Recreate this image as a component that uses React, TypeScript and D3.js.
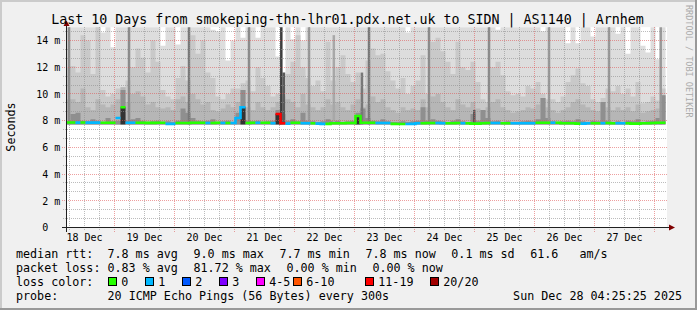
import React from "react";
import * as d3 from "d3";

// ---------------- data ----------------
const TITLE = "Last 10 Days from smokeping-thn-lhr01.pdx.net.uk to SIDN | AS1140 | Arnhem";
const Y_LABEL = "Seconds";
const WATERMARK = "RRDTOOL / TOBI OETIKER";
const parseT = d3.timeParse("%Y-%m-%d %H:%M:%S");
const START = parseT("2025-12-18 04:25:25") as Date;
const END = parseT("2025-12-28 04:25:25") as Date;
const STEP_HOURS = 2;
const SMOKE_FLOOR = 7.72;
const CORE_LIMIT = 8.25;

// outermost ping (max) per 2h step, ms (16 = above the graph top)
const maxRtt = [
  16, 16, 16, 16, 16, 16, 16, 14.6, 16, 13.5,
  16, 16, 16, 16, 16, 16, 16, 16, 16, 13.6,
  16, 16, 13.7, 16, 16, 16, 16, 16, 16, 14.8,
  14.7, 16, 12.5, 14.0, 16, 14.2, 16, 16, 14.2, 16,
  16, 16, 12.8, 11.6, 16, 14.1, 16, 14.0, 16, 16,
  16, 16, 16, 16, 16, 16, 16, 16, 16, 16,
  16, 16, 16, 16, 16, 16, 16, 16, 14.6, 16,
  16, 16, 16, 16, 16, 16, 16, 16, 16, 16,
  16, 16, 16, 16, 16, 16, 14.8, 16, 16, 16,
  16, 16, 16, 16, 16, 14.7, 16, 16, 16, 16,
  13.8, 16, 13.8, 16, 16, 14.3, 16, 16, 16, 16,
  14.5, 16, 13.0, 16, 16, 13.6, 13.1, 16, 12.6, 16,
];
// upper smoke band
const bandHigh = [
  12.0, 12.1, 11.6, 14.4, 14.0, 11.5, 15.5, 10.3, 9.8, 10.0,
  10.4, 10.5, 11.0, 12.0, 13.4, 12.7, 11.6, 14.0, 12.4, 10.3,
  9.8, 9.6, 11.2, 12.1, 11.0, 14.4, 13.0, 14.0, 11.6, 11.2,
  9.8, 9.6, 10.0, 10.4, 10.4, 10.8, 11.0, 10.2, 12.0, 11.2,
  10.6, 9.8, 10.0, 10.5, 11.5, 12.4, 14.4, 12.0, 11.2, 10.6,
  11.0, 10.2, 13.9, 11.0, 12.0, 12.9, 11.5, 10.9, 11.6, 10.4,
  12.5, 13.4, 12.9, 13.0, 11.7, 11.0, 10.4, 11.2, 10.0, 10.6,
  11.0, 12.9, 10.0, 13.9, 14.2, 13.2, 12.4, 11.5, 13.9, 12.0,
  11.8, 12.4, 10.9, 9.6, 9.4, 12.0, 12.4, 11.4, 10.2, 9.9,
  10.0, 9.8, 10.6, 10.4, 10.9, 10.0, 9.6, 9.6, 9.4, 9.8,
  10.9, 11.4, 11.9, 10.8, 10.6, 9.6, 9.4, 9.7, 10.4, 10.2,
  10.6, 10.0, 10.4, 9.8, 10.9, 9.3, 9.4, 9.8, 9.5, 10.4,
];
// middle smoke band
const bandMid = [
  9.6, 9.6, 9.4, 10.4, 9.0, 8.8, 9.6, 9.2, 9.0, 9.2,
  9.6, 10.5, 9.4, 10.0, 10.2, 9.8, 9.2, 9.4, 9.0, 8.9,
  9.0, 8.8, 9.6, 9.8, 9.4, 10.0, 9.6, 9.2, 9.4, 8.8,
  8.7, 8.9, 9.2, 9.0, 9.4, 10.3, 9.0, 8.8, 9.4, 9.0,
  8.8, 9.0, 9.4, 9.8, 9.6, 9.4, 9.0, 10.0, 9.2, 9.0,
  8.8, 9.0, 9.6, 9.2, 9.4, 9.0, 8.8, 9.2, 9.6, 9.0,
  9.2, 9.8, 9.4, 9.6, 9.0, 8.8, 8.6, 9.0, 8.8, 8.9,
  8.8, 9.6, 9.0, 9.8, 10.0, 9.4, 9.0, 8.8, 9.6, 9.2,
  9.0, 9.4, 8.9, 8.8, 9.0, 9.4, 9.6, 9.0, 8.8, 8.6,
  8.7, 8.8, 9.0, 8.9, 9.2, 9.7, 9.0, 8.8, 8.6, 8.8,
  9.0, 9.4, 9.6, 9.2, 9.0, 8.8, 8.7, 9.4, 9.0, 8.8,
  9.0, 8.8, 9.0, 8.7, 9.2, 8.6, 8.7, 8.8, 8.9, 9.9,
];
// inner (dense) smoke band
const bandLow = [
  7.95, 8.5, 8.6, 8.0, 7.95, 8.1, 8.0, 7.9, 8.2, 7.95,
  8.0, 10.3, 8.0, 8.1, 8.2, 8.0, 7.9, 7.95, 8.0, 7.9,
  7.95, 7.9, 8.0, 8.9, 8.6, 8.2, 8.0, 7.95, 8.0, 8.1,
  7.9, 7.95, 8.0, 7.9, 8.6, 10.3, 8.0, 7.95, 8.0, 7.9,
  7.95, 8.0, 8.8, 8.5, 8.0, 8.1, 7.95, 8.6, 8.0, 7.95,
  7.9, 7.95, 8.1, 8.0, 8.0, 7.9, 7.95, 8.0, 8.6, 8.9,
  8.2, 8.0, 7.95, 8.1, 7.95, 7.9, 7.9, 7.95, 7.9, 7.95,
  8.0, 9.0, 8.0, 8.1, 8.0, 7.95, 7.9, 8.0, 8.1, 7.95,
  7.9, 8.5, 8.0, 8.8, 8.2, 7.95, 8.0, 7.9, 7.95, 7.9,
  7.9, 7.95, 8.0, 7.95, 8.1, 9.7, 8.2, 7.95, 7.9, 7.95,
  8.0, 7.95, 8.1, 7.95, 7.9, 8.0, 7.95, 9.4, 8.0, 7.9,
  7.95, 7.9, 8.0, 7.95, 8.1, 7.9, 7.95, 8.0, 8.2, 9.9,
];
// median rtt, ms
const medianRtt = [
  7.86, 7.86, 7.85, 7.86, 7.85, 7.85, 7.85, 7.84, 7.84, 7.84,
  8.2, 9.0, 7.84, 7.84, 7.84, 7.84, 7.83, 7.83, 7.84, 7.84,
  7.76, 7.76, 7.82, 7.82, 7.82, 7.84, 7.84, 7.84, 7.82, 7.82,
  7.84, 7.82, 7.82, 7.82, 8.2, 9.0, 7.82, 7.84, 7.84, 7.84,
  7.84, 7.8, 8.5, 7.8, 7.78, 7.84, 7.84, 7.8, 7.8, 7.8,
  7.78, 7.76, 7.76, 7.8, 7.8, 7.8, 7.82, 7.82, 8.35, 7.84,
  7.84, 7.84, 7.82, 7.82, 7.82, 7.76, 7.75, 7.75, 7.75, 7.76,
  7.8, 7.8, 7.82, 7.82, 7.82, 7.8, 7.8, 7.8, 7.82, 7.8,
  7.8, 7.78, 7.78, 7.8, 7.82, 7.82, 7.82, 7.8, 7.8, 7.8,
  7.8, 7.8, 7.8, 7.8, 7.84, 7.84, 7.84, 7.84, 7.84, 7.8,
  7.8, 7.8, 7.78, 7.78, 7.8, 7.8, 7.8, 7.8, 7.82, 7.8,
  7.8, 7.8, 7.8, 7.78, 7.78, 7.8, 7.8, 7.82, 7.84, 7.84,
];
// loss class index per step (0 = "0", 1 = "1", ... 6 = "11-19")
const lossClass = [
  0, 0, 1, 0, 1, 1, 1, 0, 0, 0,
  1, 0, 1, 1, 0, 0, 0, 0, 0, 0,
  1, 1, 0, 0, 0, 0, 0, 0, 1, 0,
  0, 1, 0, 1, 1, 1, 0, 0, 1, 0,
  0, 1, 6, 6, 1, 0, 0, 1, 1, 0,
  1, 1, 0, 0, 0, 0, 0, 0, 0, 0,
  0, 0, 1, 1, 1, 0, 0, 0, 1, 1,
  1, 0, 0, 0, 1, 1, 0, 0, 0, 1,
  0, 0, 0, 0, 0, 1, 1, 0, 0, 1,
  1, 1, 1, 1, 0, 0, 0, 1, 0, 0,
  0, 0, 0, 1, 1, 0, 0, 1, 0, 0,
  1, 1, 0, 0, 0, 0, 0, 0, 0, 0,
];
// short bursts (1 hour) of high latency
const spikeTimes = [
  "2025-12-18 05:20:00", "2025-12-19 05:20:00", "2025-12-20 05:20:00", "2025-12-21 05:20:00",
  "2025-12-21 18:15:00", "2025-12-21 19:15:00", "2025-12-22 05:20:00", "2025-12-22 15:15:00",
  "2025-12-23 02:30:00", "2025-12-23 05:20:00", "2025-12-24 05:20:00", "2025-12-24 23:25:00",
  "2025-12-25 05:20:00", "2025-12-26 05:20:00", "2025-12-27 05:20:00", "2025-12-28 02:00:00",
];
const spikeTops = [16, 16, 16, 16, 16, 11.6, 16, 14.4, 11.6, 16, 16, 8.8, 16, 16, 16, 16];
const spikeDensity = [0.46, 0.46, 0.53, 0.46, 0.76, 0.65, 0.4, 0.34, 0.53, 0.53, 0.46, 0.65, 0.46, 0.4, 0.4, 0.4];

const yTicks = [0, 2, 4, 6, 8, 10, 12, 14];
const yUnit = "m";

const lossLabels = ["0", "1", "2", "3", "4-5", "6-10", "11-19", "20/20"];
const lossColors = ["#26ff00", "#00b8ff", "#0059ff", "#7e00ff", "#ff00ff", "#ff5500", "#ff0000", "#a10000"];

const rttLegend = ["median rtt:  7.8 ms avg", "9.0 ms max", "7.7 ms min", "7.8 ms now", "0.1 ms sd", "61.6   am/s"];
const lossLegend = ["packet loss: 0.83 % avg", "81.72 % max", "0.00 % min", "0.00 % now"];
const probeLabel = "probe:";
const probeText = "20 ICMP Echo Pings (56 Bytes) every 300s";
const stampText = "Sun Dec 28 04:25:25 2025";

// ---------------- layout ----------------
const W = 697;
const H = 310;
const FONT = "'DejaVu Sans Mono', monospace";
const CH = 7.044; // legend char advance
const GAP = 15.5;
const BOX_X = [108.5, 145.5, 182.5, 219.5, 256.5, 293.5, 365.5, 430.5];

export default function App() {
  const x = d3.scaleTime().domain([START, END]).range([65.5, 665.5]);
  const y = d3.scaleLinear().domain([0, 14]).range([227.5, 40.5]);
  const topY = y(15);
  const n = maxRtt.length;
  const colT = (k: number) => d3.timeHour.offset(START, k * STEP_HOURS);
  const px = (v: number) => Math.floor(v) + 0.5;

  const area = d3
    .area<[Date, number]>()
    .x((d) => x(d[0]))
    .y0(y(SMOKE_FLOOR))
    .y1((d) => y(Math.min(d[1], 15.5)))
    .curve(d3.curveStepAfter);
  const toPts = (arr: number[]) => {
    const pts: [Date, number][] = arr.map((v, k) => [colT(k), v]);
    pts.push([colT(n), arr[n - 1]]);
    return pts;
  };
  const layers: [number[], string][] = [
    [maxRtt, "#dddddd"],
    [bandHigh, "#c9c9c9"],
    [bandMid, "#b6b6b6"],
    [bandLow, "#8f8f8f"],
  ];
  const shade = d3.scaleLinear<string>().domain([0, 1]).range(["#ffffff", "#000000"]);

  // median runs by loss class
  const runs: [number, number][] = [];
  let s = 0;
  for (let i = 1; i <= n; i++) {
    if (i === n || lossClass[i] !== lossClass[s]) {
      runs.push([s, i - 1]);
      s = i;
    }
  }
  const medLine = d3
    .line<[Date, number]>()
    .x((d) => x(d[0]))
    .y((d) => y(d[1]))
    .curve(d3.curveStepAfter);

  // grid
  const gridTimes = d3.timeHour.every(6)!.range(START, END);
  const minorY = d3.range(1, 23).filter((i) => i % 3 !== 0).map((i) => (i * 2) / 3);
  const majorY = yTicks.filter((v) => v > 0);
  const days = d3
    .timeDay.range(d3.timeDay.floor(START), END)
    .map((d) => d3.timeHour.offset(d, 12))
    .filter((t) => t > START && t < END);
  const fmtDay = d3.timeFormat("%d %b");

  const xLeft = 66;
  const xRight = 667;

  const layoutRow = (items: string[]) => {
    let cx = 16;
    return items.map((t) => {
      const p = cx;
      cx += t.length * CH + GAP;
      return p;
    });
  };
  const rttX = layoutRow(rttLegend);
  const lossX = layoutRow(lossLegend);

  return (
    <svg
      width={W}
      height={H}
      viewBox={`0 0 ${W} ${H}`}
      style={{ position: "absolute", left: 0, top: 0, display: "block" }}
      fontFamily={FONT}
    >
      <defs>
        <clipPath id="plotclip">
          <rect x={xLeft} y={topY} width={xRight - xLeft} height={227.5 - topY} />
        </clipPath>
      </defs>
      {/* frame */}
      <rect x={0} y={0} width={W} height={H} fill="#f0f0f0" />
      <rect x={0} y={0} width={W} height={2} fill="#cbcbcb" />
      <rect x={0} y={0} width={2} height={H} fill="#cbcbcb" />
      <rect x={0} y={H - 2} width={W} height={2} fill="#999999" />
      <rect x={W - 2} y={0} width={2} height={H} fill="#999999" />

      {/* canvas */}
      <rect x={xLeft} y={topY} width={xRight - xLeft} height={227.5 - topY} fill="#ffffff" />

      <g clipPath="url(#plotclip)">
        {layers.map(([arr, col], i) => (
          <path key={i} d={area(toPts(arr)) || ""} fill={col} />
        ))}
        {spikeTimes.map((t, i) => {
          const t0 = parseT(t) as Date;
          const x0 = x(t0);
          const x1 = x(d3.timeHour.offset(t0, 1));
          const yt = y(Math.min(spikeTops[i], 15.5));
          return (
            <rect key={i} x={x0} y={yt} width={x1 - x0} height={y(SMOKE_FLOOR) - yt} fill={shade(spikeDensity[i])} />
          );
        })}
        {medianRtt.map((m, k) =>
          m > CORE_LIMIT ? (
            <rect
              key={k}
              x={x(colT(k))}
              y={y(m)}
              width={x(colT(k + 1)) - x(colT(k))}
              height={y(SMOKE_FLOOR) - y(m)}
              fill="#333333"
            />
          ) : null
        )}
      </g>

      {/* grid */}
      <g shapeRendering="crispEdges" strokeDasharray="1,1" strokeWidth={1}>
        {minorY.map((v) => (
          <line key={"hy" + v} x1={63} x2={xRight} y1={px(y(v))} y2={px(y(v))} stroke="rgba(143,143,143,0.6)" />
        ))}
        {gridTimes
          .filter((t) => t.getHours() !== 0)
          .map((t) => (
            <line key={"vx" + +t} x1={px(x(t))} x2={px(x(t))} y1={topY} y2={231} stroke="rgba(143,143,143,0.6)" />
          ))}
        {majorY.map((v) => (
          <line key={"my" + v} x1={62} x2={xRight} y1={px(y(v))} y2={px(y(v))} stroke="rgba(222,80,80,0.55)" />
        ))}
        {gridTimes
          .filter((t) => t.getHours() === 0)
          .map((t) => (
            <line key={"mx" + +t} x1={px(x(t))} x2={px(x(t))} y1={topY} y2={232} stroke="rgba(222,80,80,0.55)" />
          ))}
      </g>

      {/* median line colored by loss */}
      <g clipPath="url(#plotclip)">
        {runs.map(([a, b], i) => {
          const pts: [Date, number][] = d3.range(a, b + 1).map((k) => [colT(k), medianRtt[k]] as [Date, number]);
          pts.push([colT(b + 1), medianRtt[b]]);
          return (
            <path key={i} d={medLine(pts) || ""} fill="none" stroke={lossColors[lossClass[a]]} strokeWidth={2.6} />
          );
        })}
      </g>

      {/* axes */}
      <g shapeRendering="crispEdges">
        <line x1={62} x2={671} y1={227.5} y2={227.5} stroke="#202020" />
        <line x1={66.5} x2={66.5} y1={232} y2={25} stroke="#202020" />
      </g>
      <path d="M669,224.5 L675,227.5 L669,230.5 Z" fill="#7f0000" />
      <path d="M63.5,26 L66.5,20.5 L69.5,26 Z" fill="#7f0000" />

      {/* y tick labels */}
      <g fontSize={10} fill="#000">
        {yTicks.map((v) => (
          <g key={v}>
            <text x={48.2} y={y(v) + 3.8} textAnchor="end">
              {v}
            </text>
            {v > 0 ? (
              <text x={54.2} y={y(v) + 3.8}>
                {yUnit}
              </text>
            ) : null}
          </g>
        ))}
      </g>
      {/* x tick labels */}
      <g fontSize={10} fill="#000">
        {days.map((noon) => (
          <text key={+noon} x={x(noon)} y={240.7} textAnchor="middle">
            {fmtDay(noon)}
          </text>
        ))}
      </g>

      {/* title */}
      <text x={347.5} y={24} fontSize={13.3} textAnchor="middle" fill="#000">
        {TITLE}
      </text>
      {/* y label */}
      <text transform="translate(15,127) rotate(-90)" fontSize={11.7} textAnchor="middle" fill="#000">
        {Y_LABEL}
      </text>
      {/* watermark */}
      <text transform="translate(685.5,5) rotate(90)" fontSize={8.5} fill="#ababab">
        {WATERMARK}
      </text>

      {/* legend */}
      <g fontSize={11.7} fill="#000" style={{ whiteSpace: "pre" }}>
        {rttLegend.map((t, i) => (
          <text key={"r" + i} x={rttX[i]} y={257.7} xmlSpace="preserve">
            {t}
          </text>
        ))}
        {lossLegend.map((t, i) => (
          <text key={"l" + i} x={lossX[i]} y={271.7} xmlSpace="preserve">
            {t}
          </text>
        ))}
        <text x={16} y={285.7}>
          loss color:
        </text>
        {lossLabels.map((lab, i) => (
          <g key={"b" + i}>
            <rect x={BOX_X[i]} y={277.5} width={8} height={8} fill={lossColors[i]} stroke="#000" strokeWidth={1} shapeRendering="crispEdges" />
            <text x={BOX_X[i] + 12.8} y={285.7}>
              {lab}
            </text>
          </g>
        ))}
        <text x={16} y={299.7}>
          {probeLabel}
        </text>
        <text x={16 + 13 * CH} y={299.7}>
          {probeText}
        </text>
        <text x={682} y={299.7} textAnchor="end">
          {stampText}
        </text>
      </g>
    </svg>
  );
}
